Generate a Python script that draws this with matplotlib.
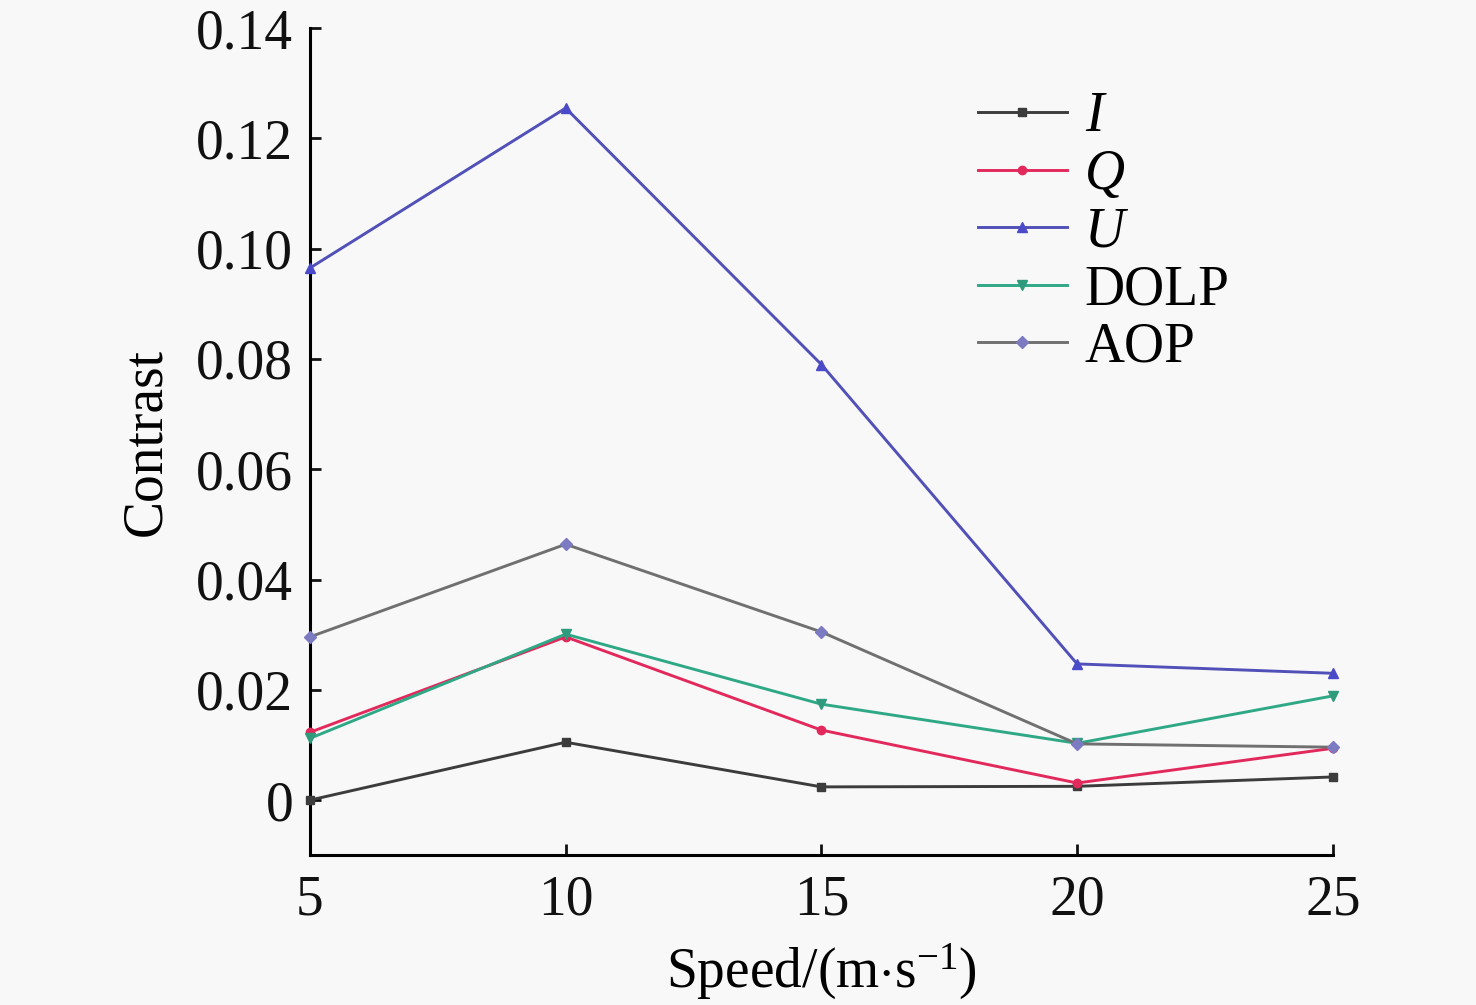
import matplotlib
matplotlib.use("Agg")
import matplotlib.pyplot as plt
from matplotlib.ticker import FuncFormatter

# data
speed = [5, 10, 15, 20, 25]
I_vals = [0.0000, 0.0105, 0.0024, 0.0025, 0.0042]
Q_vals = [0.0123, 0.0296, 0.0127, 0.0031, 0.0094]
U_vals = [0.0965, 0.1255, 0.0790, 0.0247, 0.0230]
DOLP_vals = [0.0112, 0.0301, 0.0174, 0.0103, 0.0189]
AOP_vals = [0.0296, 0.0464, 0.0305, 0.0102, 0.0096]
labels = ["I", "Q", "U", "DOLP", "AOP"]

plt.rcParams['font.family'] = ['Liberation Serif', 'DejaVu Serif']
plt.rcParams['mathtext.fontset'] = 'custom'
plt.rcParams['mathtext.rm'] = 'Liberation Serif'
plt.rcParams['mathtext.it'] = 'Liberation Serif:italic'

bg = '#f8f8f8'
fig = plt.figure(figsize=(14.76, 10.05), dpi=100, facecolor=bg)
ax = fig.add_axes([0.210, 0.149, 0.693, 0.823], facecolor=bg)

series = [I_vals, Q_vals, U_vals, DOLP_vals, AOP_vals]
line_colors = ['#3c3c3c', '#e2295c', '#5150b8', '#2fa886', '#707070']
mk_colors = ['#3c3c3c', '#e2295c', '#4b4ac8', '#2f9a7c', '#7c7ac0']
markers = ['s', 'o', '^', 'v', 'D']
msizes = [6, 6, 7, 7, 6]

for vals, lab, lc, mc, m, ms in zip(series, labels, line_colors, mk_colors, markers, msizes):
    ax.plot(speed, vals, color=lc, lw=2.1, marker=m, ms=ms,
            markerfacecolor=mc, markeredgecolor=mc, label=lab, clip_on=False, zorder=3)

ax.set_xlim(5, 25)
ax.set_ylim(-0.01, 0.14)
ax.set_xticks(speed)
ax.set_yticks([0, 0.02, 0.04, 0.06, 0.08, 0.10, 0.12, 0.14])
ax.yaxis.set_major_formatter(FuncFormatter(lambda v, p: '0' if abs(v) < 1e-9 else f'{v:.2f}'))

for s in ['top', 'right']:
    ax.spines[s].set_visible(False)
for s in ['left', 'bottom']:
    ax.spines[s].set_linewidth(2.2)
ax.tick_params(direction='in', length=8, width=2, labelsize=40, colors='#111111')
ax.tick_params(axis='x', pad=14)
ax.tick_params(axis='y', pad=12)

ax.set_ylabel('Contrast', fontsize=40, labelpad=17)
ax.set_xlabel('Speed/(m$\\cdot$s$^{-1}$)', fontsize=40, labelpad=11)

leg = ax.legend(loc='upper left', bbox_to_anchor=(0.626, 0.957), frameon=False,
                fontsize=40, handlelength=1.6, handletextpad=0.32, labelspacing=0.1,
                borderpad=0)
for t in leg.get_texts()[:3]:
    t.set_fontstyle('italic')

fig.savefig('out.png', dpi=100, facecolor=bg)
